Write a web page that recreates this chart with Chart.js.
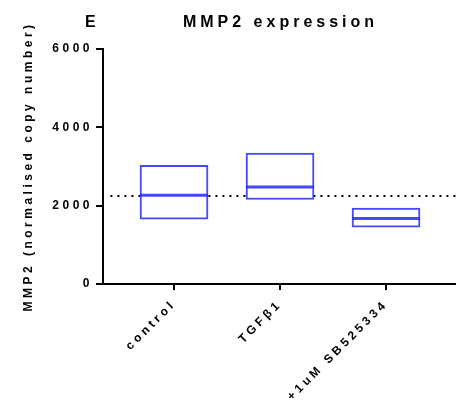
<!DOCTYPE html>
<html>
<head>
<meta charset="utf-8">
<script src="https://cdn.jsdelivr.net/npm/chart.js@4/dist/chart.umd.min.js"></script>
<style>
  html, body { margin: 0; padding: 0; background: #fff; }
  canvas { display: block; }
</style>
</head>
<body>
<canvas id="chart" width="456" height="402"></canvas>
<script>
// ─── DATA ────────────────────────────────────────────────────
const categories = ['control', 'TGF\u03B21', '+1uM SB525334'];
const catPos     = [1, 2, 3];
const boxLow     = [1656, 2158, 1452];
const boxHigh    = [3032, 3345, 1936];
const medians    = [2268, 2479, 1674];
const refLevel   = 2250;
const yTicks     = [0, 2000, 4000, 6000];

const FONT = "'Liberation Sans', Arial, sans-serif";
const BLUE = 'rgba(45,45,255,0.88)';

// canvas letter spacing (the original uses widely spaced bold type)
const spacing = {
  id: 'spacing',
  beforeUpdate(chart) { chart.ctx.letterSpacing = '3.5px'; },
  beforeDraw(chart) { chart.ctx.letterSpacing = '3.5px'; }
};

// panel letter + title, centred over the plot area
const titles = {
  id: 'titles',
  afterDraw(chart) {
    const { ctx, chartArea } = chart;
    ctx.save();
    ctx.fillStyle = '#000';
    ctx.font = `bold 16px ${FONT}`;
    ctx.textBaseline = 'alphabetic';
    ctx.letterSpacing = '0px';
    ctx.textAlign = 'left';
    ctx.fillText('E', 85, 27);
    ctx.letterSpacing = '4px';
    ctx.textAlign = 'center';
    ctx.fillText('MMP2 expression', (chartArea.left + chartArea.right) / 2 + 1, 27);
    ctx.restore();
  }
};

new Chart(document.getElementById('chart'), {
  data: {
    datasets: [
      {
        type: 'scatter',
        data: catPos.map((x, i) => ({ x, y: medians[i] })),
        pointStyle: 'line',
        pointRadius: 34,
        pointHoverRadius: 34,
        borderColor: BLUE,
        borderWidth: 3,
        order: 1
      },
      {
        type: 'bar',
        data: catPos.map((x, i) => ({ x, y: [boxLow[i], boxHigh[i]] })),
        backgroundColor: '#fff',
        borderColor: BLUE,
        borderWidth: 2,
        borderSkipped: false,
        barThickness: 68,
        order: 2
      },
      {
        type: 'line',
        data: [{ x: 0.40, y: refLevel }, { x: 3.66, y: refLevel }],
        borderColor: '#000',
        borderWidth: 2,
        borderDash: [2, 5],
        pointRadius: 0,
        order: 3
      }
    ]
  },
  options: {
    responsive: false,
    animation: false,
    layout: { autoPadding: false, padding: { top: 49, left: 0, right: 0, bottom: 0 } },
    plugins: {
      legend: { display: false },
      tooltip: { enabled: false }
    },
    scales: {
      x: {
        type: 'linear',
        offset: false,
        min: 0.33,
        max: 3.66,
        afterBuildTicks: axis => { axis.ticks = catPos.map(v => ({ value: v })); },
        afterFit: axis => { axis.height = 118; axis.paddingLeft = 0; axis.paddingRight = 0; },
        ticks: {
          autoSkip: false,
          minRotation: 45,
          maxRotation: 45,
          padding: 7,
          color: '#000',
          font: { family: FONT, size: 12, weight: 'bold' },
          callback: v => categories[catPos.indexOf(v)]
        },
        grid: { offset: false, drawOnChartArea: false, drawTicks: true, tickLength: 6, lineWidth: 2, color: '#000' },
        border: { display: true, width: 2, color: '#000' }
      },
      y: {
        min: 0,
        max: 6000,
        afterBuildTicks: axis => { axis.ticks = yTicks.map(v => ({ value: v })); },
        afterFit: axis => { axis.width = 103; },
        ticks: {
          padding: 3,
          color: '#000',
          font: { family: FONT, size: 12, weight: 'bold' },
          callback: v => String(v)
        },
        grid: { drawOnChartArea: false, drawTicks: true, tickLength: 7, lineWidth: 2, color: '#000' },
        border: { display: true, width: 2, color: '#000' },
        title: {
          display: true,
          text: 'MMP2 (normalised copy number)',
          color: '#000',
          font: { family: FONT, size: 12, weight: 'bold' },
          padding: { top: 21, bottom: 0 }
        }
      }
    }
  },
  plugins: [spacing, titles]
});
</script>
</body>
</html>
